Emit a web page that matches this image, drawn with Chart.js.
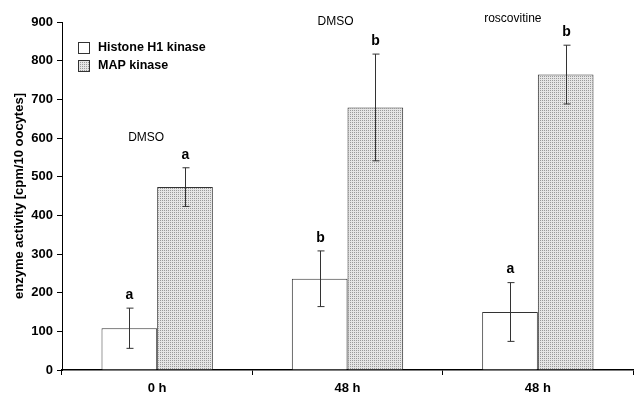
<!DOCTYPE html>
<html>
<head>
<meta charset="utf-8">
<script src="https://cdn.jsdelivr.net/npm/chart.js@4.4.0/dist/chart.umd.min.js"></script>
<style>
  body { margin: 0; background: #fff; }
  #wrap { width: 634px; height: 393px; position: relative; }
</style>
</head>
<body>
<div id="wrap"><canvas id="chart"></canvas></div>
<script>
// data
var categories = ['0 h', '48 h', '48 h'];
var treatments = ['DMSO', 'DMSO', 'roscovitine'];
var h1Values = [108, 236, 150];
var h1Errors = [52, 72, 76];
var mapValues = [473, 679, 764];
var mapErrors = [50, 138, 76];
var h1Letters = ['a', 'b', 'a'];
var mapLetters = ['a', 'b', 'b'];
var yTicks = [0, 100, 200, 300, 400, 500, 600, 700, 800, 900];

var FONT = '"Liberation Sans", Arial, sans-serif';

// stippled grey fill like the print
function makeStipple() {
  var c = document.createElement('canvas');
  c.width = 2; c.height = 2;
  var g = c.getContext('2d');
  g.fillStyle = '#e6e6e6';
  g.fillRect(0, 0, 2, 2);
  g.fillStyle = '#9a9a9a';
  g.fillRect(0, 0, 1, 1);
  return g.createPattern(c, 'repeat');
}
var stipple = makeStipple();

var errorBars = {
  id: 'errorBars',
  afterDatasetsDraw: function(chart) {
    var ctx = chart.ctx;
    var y = chart.scales.y;
    var errs = [h1Errors, mapErrors];
    var letters = [h1Letters, mapLetters];
    ctx.save();
    ctx.strokeStyle = '#333';
    ctx.lineWidth = 1;
    chart.data.datasets.forEach(function(ds, di) {
      var meta = chart.getDatasetMeta(di);
      meta.data.forEach(function(bar, i) {
        var v = ds.data[i];
        var x = Math.round(bar.x) + 0.5;
        var top = y.getPixelForValue(v + errs[di][i]);
        var bot = y.getPixelForValue(v - errs[di][i]);
        ctx.beginPath();
        ctx.moveTo(x, top); ctx.lineTo(x, bot);
        ctx.moveTo(x - 3, top); ctx.lineTo(x + 4, top);
        ctx.moveTo(x - 3, bot); ctx.lineTo(x + 4, bot);
        ctx.stroke();
        ctx.fillStyle = '#000';
        ctx.font = 'bold 14px ' + FONT;
        ctx.textAlign = 'center';
        ctx.textBaseline = 'middle';
        ctx.fillText(letters[di][i], x, top - 13);
      });
    });
    // treatment labels above the groups
    var xs = chart.scales.x;
    ctx.font = '12px ' + FONT;
    ctx.fillStyle = '#000';
    var labelY = [138, 22, 19];
    var labelDx = [-11, -12, -25];
    treatments.forEach(function(t, i) {
      ctx.fillText(t, xs.getPixelForValue(i) + labelDx[i], labelY[i]);
    });
    // legend inside the plot
    ctx.font = 'bold 12.5px ' + FONT;
    ctx.textAlign = 'left';
    chart.data.datasets.forEach(function(ds, di) {
      var ly = 48 + di * 18;
      ctx.fillStyle = ds.backgroundColor;
      ctx.fillRect(78, ly - 6, 12, 12);
      ctx.strokeStyle = '#333';
      ctx.strokeRect(78.5, ly - 5.5, 11, 11);
      ctx.fillStyle = '#000';
      ctx.fillText(ds.label, 98, ly);
    });
    ctx.restore();
  }
};

new Chart(document.getElementById('chart'), {
  type: 'bar',
  data: {
    labels: categories,
    datasets: [
      { label: 'Histone H1 kinase', data: h1Values, backgroundColor: '#ffffff',
        borderColor: '#333', borderWidth: 1, borderSkipped: 'bottom' },
      { label: 'MAP kinase', data: mapValues, backgroundColor: stipple,
        borderColor: '#333', borderWidth: 1, borderSkipped: 'bottom' }
    ]
  },
  options: {
    responsive: true,
    maintainAspectRatio: false,
    animation: false,
    layout: { padding: { top: 22, right: 1, left: 0, bottom: 0 } },
    plugins: { legend: { display: false }, tooltip: { enabled: false } },
    datasets: { bar: { categoryPercentage: 0.585, barPercentage: 1 } },
    scales: {
      x: {
        grid: { offset: true, drawOnChartArea: false, color: '#000', tickLength: 5, tickColor: '#000' },
        border: { color: '#000', width: 1.5 },
        ticks: { color: '#000', font: { family: FONT, size: 13, weight: 'bold' }, padding: 6 },
        afterFit: function(s) { s.height = 23; }
      },
      y: {
        min: 0, max: 900,
        afterBuildTicks: function(s) { s.ticks = yTicks.map(function(v) { return { value: v }; }); },
        grid: { drawOnChartArea: false, color: '#000', tickLength: 5, tickColor: '#000' },
        border: { color: '#000', width: 1 },
        ticks: { color: '#000', font: { family: FONT, size: 13, weight: 'bold' }, padding: 4 },
        title: { display: true, text: 'enzyme activity [cpm/10 oocytes]', color: '#000',
          font: { family: FONT, size: 13, weight: 'bold' }, padding: { top: 12, bottom: 4 } },
        afterFit: function(s) { s.width = 62; }
      }
    }
  },
  plugins: [errorBars]
});
</script>
</body>
</html>
